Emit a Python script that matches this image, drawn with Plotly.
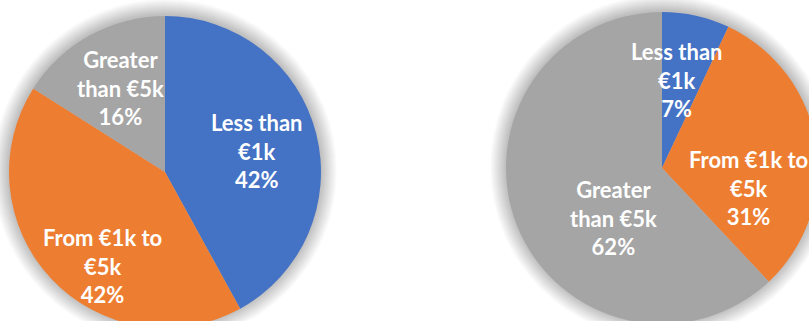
import plotly.graph_objects as go

# ---- data ----
categories = ["Less than €1k", "From €1k to €5k", "Greater than €5k"]
left_values = [42, 42, 16]
right_values = [7, 31, 62]
left_label_text = ["Less than<br>€1k<br>42%", "From €1k to<br>€5k<br>42%", "Greater<br>than €5k<br>16%"]
right_label_text = ["Less than<br>€1k<br>7%", "From €1k to<br>€5k<br>31%", "Greater<br>than €5k<br>62%"]
colors = ["#4472C4", "#ED7D31", "#A5A5A5"]

# ---- layout geometry (pixels) ----
W, H = 840, 350
R = 156
left_c = (165, 172)
right_c = (662, 168)
left_label_pos = [(256, 151), (102, 266), (120, 88)]
right_label_pos = [(676, 80), (748, 188), (613, 218)]


def domain(c):
    cx, cy = c
    return dict(x=[(cx - R) / W, (cx + R) / W],
                y=[(H - cy - R) / H, (H - cy + R) / H])


fig = go.Figure()
for vals, c in ((left_values, left_c), (right_values, right_c)):
    fig.add_trace(go.Pie(
        labels=categories, values=vals, sort=False, direction="clockwise",
        rotation=0, marker=dict(colors=colors, line=dict(width=0)),
        textinfo="none", hoverinfo="label+percent", domain=domain(c),
        showlegend=False,
    ))

# soft shadow around each pie
shapes = []
for c in (left_c, right_c):
    cx, cy = c
    for k in range(16, 0, -1):
        rr = R + k
        shapes.append(dict(
            type="circle", xref="paper", yref="paper", layer="below",
            x0=(cx - rr) / W, x1=(cx + rr) / W,
            y0=(H - cy + 1 - rr) / H, y1=(H - cy + 1 + rr) / H,
            fillcolor="rgba(0,0,0,0.016)", line=dict(width=0),
        ))

annotations = []
for texts, pos in ((left_label_text, left_label_pos), (right_label_text, right_label_pos)):
    for t, (px, py) in zip(texts, pos):
        annotations.append(dict(
            text=t, x=px / W, y=1 - py / H, xref="paper", yref="paper",
            xanchor="center", yanchor="middle", showarrow=False,
            font=dict(family="Lato", size=22, color="white", weight="bold"),
        ))

fig.update_layout(
    width=W, height=H, margin=dict(l=0, r=0, t=0, b=0),
    paper_bgcolor="white", plot_bgcolor="white",
    shapes=shapes, annotations=annotations,
)

fig.write_html("out.html", post_script="document.body.style.margin='0';document.body.style.overflow='hidden';document.documentElement.style.overflow='hidden';")
